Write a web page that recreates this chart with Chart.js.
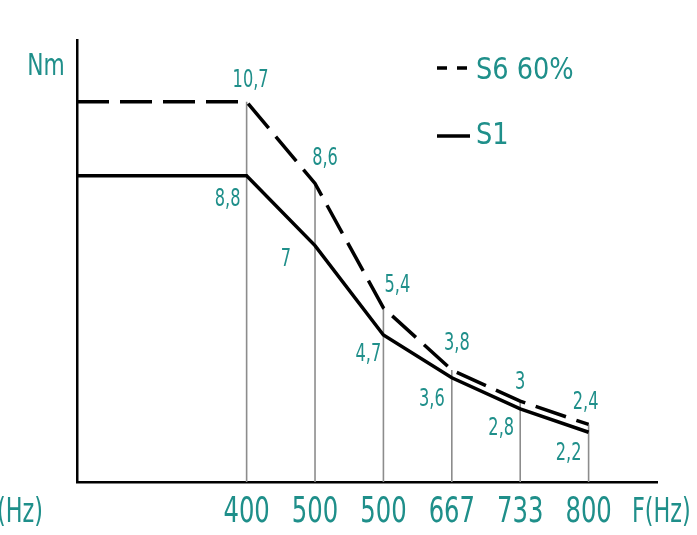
<!DOCTYPE html>
<html>
<head>
<meta charset="utf-8">
<script src="https://cdn.jsdelivr.net/npm/chart.js@4.4.1/dist/chart.umd.min.js"></script>
<style>
  html,body{margin:0;padding:0;background:#fff;}
  #wrap{width:697px;height:535px;position:relative;}
</style>
</head>
<body>
<div id="wrap"><canvas id="c" width="697" height="535"></canvas></div>
<script>
// ---- data ----
const categories = ['400', '500', '500', '667', '733', '800'];
const s6Values = [10.7, 8.6, 5.4, 3.8, 3, 2.4];
const s1Values = [8.8, 7, 4.7, 3.6, 2.8, 2.2];
const s6Labels = ['10,7', '8,6', '5,4', '3,8', '3', '2,4'];
const s1Labels = ['8,8', '7', '4,7', '3,6', '2,8', '2,2'];
const seriesNames = ['S6 60%', 'S1'];
const yUnit = 'Nm';
const xUnit = 'F(Hz)';

// ---- style / layout ----
const TEAL = 'rgb(31,143,138)';
const FONT = '"DejaVu Sans Condensed", "DejaVu Sans", sans-serif';
const X_MIN = -2.48, X_MAX = 6.0;
const Y_MIN = 0.92, Y_MAX = 12.29;
const s6Off = [[4,-21],[10,-25],[14,-22],[5,-27],[0,-19],[-3,-22]];
const s1Off = [[-19,24],[-29,14],[-15,19],[-20,22],[-19,20],[-20,21]];

function seriesData(vals){
  return [{x: X_MIN, y: vals[0]}].concat(vals.map((v,i)=>({x:i, y:v})));
}

const datasets = [
  {label: seriesNames[0], data: seriesData(s6Values), borderColor:'#000', borderWidth:3.5,
   borderDash:[32,11], pointRadius:0, tension:0, order:0, fill:false},
  {label: seriesNames[1], data: seriesData(s1Values), borderColor:'#000', borderWidth:3.5,
   pointRadius:0, tension:0, order:1, fill:false}
];
categories.forEach((c,i)=>{
  datasets.push({label:'drop'+i, data:[{x:i,y:Y_MIN},{x:i,y:Math.max(s6Values[i], s1Values[i])}],
    borderColor:'#8c8c8c', borderWidth:1.6, pointRadius:0, order:5, fill:false});
});

function txt(ctx, t, x, y, size, k, align){
  ctx.save();
  ctx.font = size + 'px ' + FONT;
  ctx.textAlign = align || 'center';
  ctx.textBaseline = 'middle';
  ctx.translate(x, y);
  ctx.scale(k, 1);
  ctx.fillText(t, 0, 0);
  ctx.restore();
}

const textPlugin = {
  id:'texts',
  afterDatasetsDraw(chart){
    const ctx = chart.ctx;
    const m6 = chart.getDatasetMeta(0), m1 = chart.getDatasetMeta(1);
    const xs = chart.scales.x;
    ctx.save();
    ctx.fillStyle = TEAL;
    // tick labels at the x scale's positions
    categories.forEach((c,i)=>{
      txt(ctx, c, xs.getPixelForValue(i), 513, 36, 0.75);
    });
    s6Labels.forEach((t,i)=>{
      const p = m6.data[i+1];
      txt(ctx, t, p.x + s6Off[i][0], p.y + s6Off[i][1], 25, 0.72);
    });
    s1Labels.forEach((t,i)=>{
      const p = m1.data[i+1];
      txt(ctx, t, p.x + s1Off[i][0], p.y + s1Off[i][1], 25, 0.72);
    });
    // units
    txt(ctx, yUnit, 46, 67, 31, 0.78);
    txt(ctx, xUnit, 632, 513, 34, 0.73, 'left');
    txt(ctx, xUnit, 43, 513, 34, 0.73, 'right');
    // legend
    txt(ctx, seriesNames[0], 476, 71, 30, 0.95, 'left');
    txt(ctx, seriesNames[1], 476, 136, 30, 0.95, 'left');
    ctx.strokeStyle = '#000';
    ctx.lineWidth = 3.5;
    ctx.setLineDash([10,10]);
    ctx.beginPath(); ctx.moveTo(437,68); ctx.lineTo(470,68); ctx.stroke();
    ctx.setLineDash([]);
    ctx.beginPath(); ctx.moveTo(437,136); ctx.lineTo(470,136); ctx.stroke();
    ctx.restore();
  }
};

new Chart(document.getElementById('c'), {
  type:'line',
  data:{datasets},
  options:{
    responsive:false,
    animation:false,
    events:[],
    layout:{padding:{left:77, right:40, top:40, bottom:53}},
    plugins:{legend:{display:false}, tooltip:{enabled:false}},
    scales:{
      x:{type:'linear', min:X_MIN, max:X_MAX,
        grid:{display:false, drawTicks:false},
        border:{display:true, color:'#000', width:2.5},
        afterBuildTicks(scale){ scale.ticks = categories.map((c,i)=>({value:i})); },
        ticks:{display:false}
      },
      y:{type:'linear', min:Y_MIN, max:Y_MAX,
        grid:{display:false, drawTicks:false},
        border:{display:true, color:'#000', width:2.5},
        ticks:{display:false}
      }
    }
  },
  plugins:[textPlugin]
});
</script>
</body>
</html>
